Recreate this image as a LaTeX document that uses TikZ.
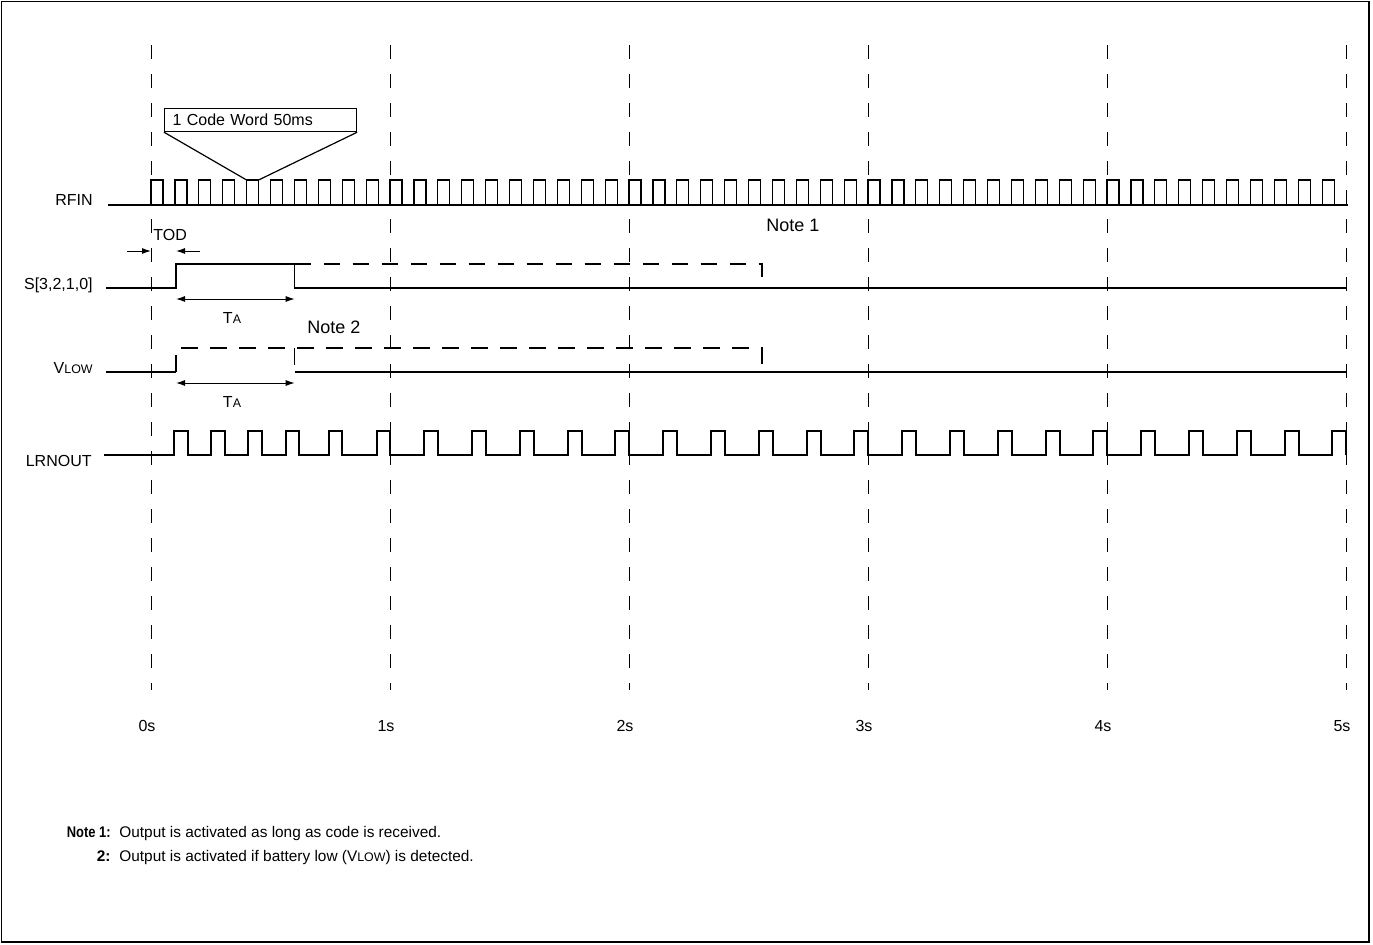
\documentclass[tikz,border=0pt]{standalone}
\usepackage{fontspec}
\setmainfont{Liberation Sans}
\usetikzlibrary{arrows.meta}

\tikzset{
  lbl/.style={font=\fontsize{8}{9.6}\selectfont},
  notelbl/.style={font=\fontsize{9}{10.8}\selectfont},
  foot/.style={font=\fontsize{7.7}{9.2}\selectfont},
  footkey/.style={font=\fontsize{7.7}{9.2}\selectfont\bfseries},
  sig/.style={line width=0.6pt},
  ghost/.style={line width=0.6pt, dash pattern=on 8.3pt off 6.2pt},
  gridln/.style={line width=0.5pt, dash pattern=on 7pt off 7.5pt},
  dimarr/.style={line width=0.5pt, -{Latex[length=4.5pt,width=3pt]}},
  dimboth/.style={line width=0.5pt, {Latex[length=4.5pt,width=3pt]}-{Latex[length=4.5pt,width=3pt]}},
}
\newcommand{\smcap}[1]{{\fontsize{6.2}{7}\selectfont #1}}

\begin{document}
\begin{tikzpicture}[x=0.5pt,y=-0.5pt]
 	\tikzstyle{every node}+=[inner sep=0pt]
 	\useasboundingbox (0,0) rectangle (1373,944);
 	\draw [line width=0.8pt] (1.5,1.5) rectangle (1369,942);
 	% time grid
 	\foreach \s in {0,...,5} {
 	  \draw [gridln] (151+239*\s,45) -- (151+239*\s,690);
 	  \node [lbl, anchor=base] (t\s) at (147+239*\s,731) {\s s};
 	}
 	% signal names
 	\node [lbl, anchor=base east] (rfinlbl) at (93,205) {RFIN};
 	\node [lbl, anchor=base east] (slbl) at (93,289) {S[3,2,1,0]};
 	\node [lbl, anchor=base east] (vlowlbl) at (93,373) {V\smcap{LOW}};
 	\node [lbl, anchor=base east] (lrnlbl) at (92,466) {LRNOUT};
 	% RFIN
 	\draw [sig] (108,205) -- (1348,205);
 	\foreach \k in {0,...,49}
 	  \draw [sig] (151+23.9*\k,205) -- ++(0,-25) -- ++(12,0) -- ++(0,25);
 	\node [draw, sig, lbl, anchor=north west, minimum height=11.5pt, text width=88pt, inner xsep=4pt, align=left] (cw) at (164,108) {1 Code Word 50ms};
 	\coordinate (cwa) at (246.6,180);
 	\coordinate (cwb) at (258.6,180);
 	\draw [sig] (cw.south west) -- (cwa);
 	\draw [sig] (cw.south east) -- (cwb);
 	% TOD
 	\coordinate (todl) at (127,251);
 	\coordinate (todr) at (200,251);
 	\coordinate (z0) at (151,251);
 	\coordinate (z1) at (176,251);
 	\draw [dimarr] (todl) -- (z0);
 	\draw [dimarr] (todr) -- (z1);
 	\node [lbl, anchor=base west] (tod) at (153,240) {TOD};
 	% S[3,2,1,0]
 	\draw [sig] (106,288) -- (176,288) -- (176,264) -- (294.7,264) -- (294.7,288) -- (1346,288);
 	\draw [ghost] (294.7,264) -- (762,264) -- (762,288);
 	\coordinate (sa) at (176,299);
 	\coordinate (sb) at (294.7,299);
 	\draw [dimboth] (sa) -- (sb);
 	\node [lbl, anchor=base] (ta1) at (232,323.5) {T\smcap{A}};
 	\node [notelbl, anchor=base] (note1) at (793,231.5) {Note 1};
 	\node [notelbl, anchor=base] (note2) at (334,333.5) {Note 2};
 	% VLOW
 	\draw [sig] (106,372) -- (176,372);
 	\draw [ghost] (176,372) -- (176,348) -- (762,348) -- (762,372);
 	\draw [ghost] (294.7,348) -- (294.7,372);
 	\draw [sig] (294.7,372) -- (1346,372);
 	\coordinate (va) at (176,383);
 	\coordinate (vb) at (294.7,383);
 	\draw [dimboth] (va) -- (vb);
 	\node [lbl, anchor=base] (ta2) at (232,407) {T\smcap{A}};
 	% LRNOUT
 	\draw [sig] (104,455)
 	  foreach \r/\f in {174/188,211/225,248/262,286/299,329/342,377/390} { -- (\r,455) -- (\r,431) -- (\f,431) -- (\f,455) }
 	  foreach \s in {1,...,4} { foreach \o in {34,82,130,178,225} { -- (151+239*\s+\o,455) -- ++(0,-24) -- ++(14,0) -- ++(0,24) } }
 	  -- (1346,455);
 	% notes
 	\node [footkey, anchor=base east] (n1key) at (111,837) {\scalebox{0.84}[1]{Note 1:}};
 	\node [foot, anchor=base west] (n1txt) at (119,837) {Output is activated as long as code is received.};
 	\node [footkey, anchor=base east] (n2key) at (111,861) {2:};
 	\node [foot, anchor=base west] (n2txt) at (119,861) {Output is activated if battery low (V\smcap{LOW}) is detected.};
\end{tikzpicture}
\end{document}
